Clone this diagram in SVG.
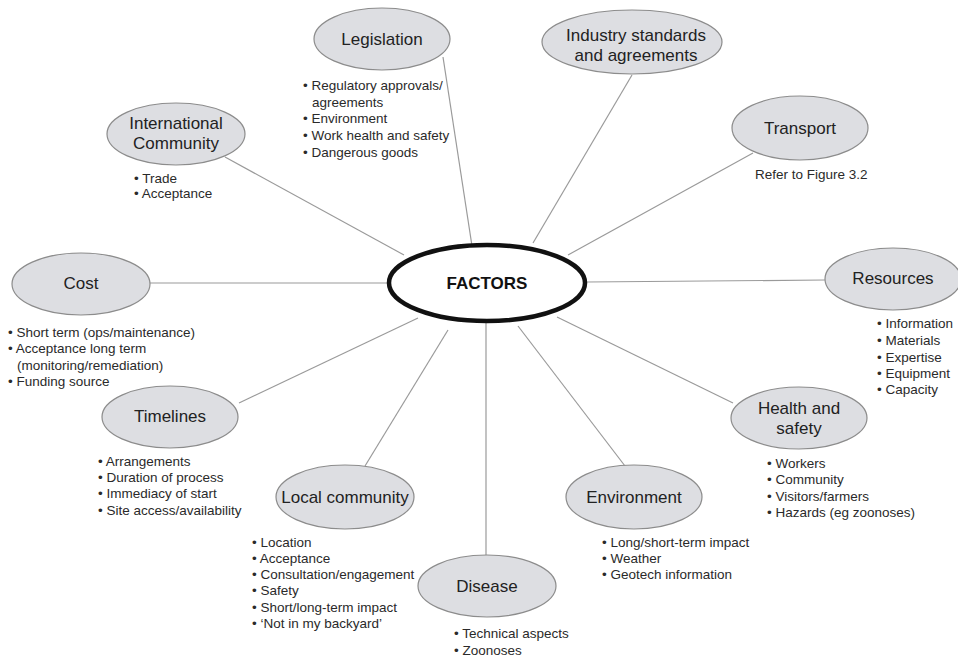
<svg xmlns="http://www.w3.org/2000/svg" width="958" height="661" viewBox="0 0 958 661">
<style>
.bg{fill:#ffffff}
.node{fill:#dddee2;stroke:#8c8c8c;stroke-width:1.2}
.hub{fill:#ffffff;stroke:#111111;stroke-width:4.5}
.lbl{font-family:"Liberation Sans",Arial,sans-serif;font-size:17px;fill:#222222;text-anchor:middle}
.hubl{font-family:"Liberation Sans",Arial,sans-serif;font-size:17px;font-weight:bold;fill:#111111;text-anchor:middle}
.bl{font-family:"Liberation Sans",Arial,sans-serif;font-size:13.5px;fill:#2a2a2a}
.conn line{stroke:#9a9a9a;stroke-width:1.2}
</style>
<rect class="bg" x="0" y="0" width="958" height="661"/>
<g id="connectors" class="conn">
<line x1="443" y1="57" x2="472" y2="246"/>
<line x1="225" y1="157" x2="404" y2="255"/>
<line x1="632" y1="75" x2="533" y2="243"/>
<line x1="753" y1="153" x2="568" y2="255"/>
<line x1="150" y1="283" x2="388" y2="283"/>
<line x1="587" y1="282" x2="825" y2="280"/>
<line x1="239" y1="403" x2="418" y2="318"/>
<line x1="365" y1="466" x2="448" y2="330"/>
<line x1="486" y1="322" x2="486" y2="555"/>
<line x1="518" y1="326" x2="625" y2="466"/>
<line x1="557" y1="317" x2="733" y2="403"/>
</g>
<g id="factors">
<ellipse class="hub" cx="487" cy="283" rx="98" ry="38"/>
<text class="hubl" x="487" y="289">FACTORS</text>
</g>
<g id="legislation">
<ellipse class="node" cx="382" cy="39" rx="68" ry="31"/>
<text class="lbl" x="382" y="45">Legislation</text>
<text class="bl" x="303" y="90">• Regulatory approvals/</text>
<text class="bl" x="312" y="107">agreements</text>
<text class="bl" x="303" y="123">• Environment</text>
<text class="bl" x="303" y="140">• Work health and safety</text>
<text class="bl" x="303" y="157">• Dangerous goods</text>
</g>
<g id="international">
<ellipse class="node" cx="176" cy="134" rx="69" ry="31"/>
<text class="lbl" x="176" y="129">International</text>
<text class="lbl" x="176" y="149">Community</text>
<text class="bl" x="134" y="183">• Trade</text>
<text class="bl" x="134" y="198">• Acceptance</text>
</g>
<g id="industry">
<ellipse class="node" cx="632" cy="42" rx="90" ry="32"/>
<text class="lbl" x="636" y="41">Industry standards</text>
<text class="lbl" x="636" y="61">and agreements</text>
</g>
<g id="transport">
<ellipse class="node" cx="800" cy="128" rx="68" ry="32"/>
<text class="lbl" x="800" y="134">Transport</text>
<text class="bl" x="755" y="179">Refer to Figure 3.2</text>
</g>
<g id="cost">
<ellipse class="node" cx="81" cy="284" rx="69" ry="31"/>
<text class="lbl" x="81" y="289">Cost</text>
<text class="bl" x="8" y="337">• Short term (ops/maintenance)</text>
<text class="bl" x="8" y="353">• Acceptance long term</text>
<text class="bl" x="17" y="370">(monitoring/remediation)</text>
<text class="bl" x="8" y="386">• Funding source</text>
</g>
<g id="resources">
<ellipse class="node" cx="893" cy="279" rx="68" ry="31"/>
<text class="lbl" x="893" y="284">Resources</text>
<text class="bl" x="877" y="328">• Information</text>
<text class="bl" x="877" y="345">• Materials</text>
<text class="bl" x="877" y="362">• Expertise</text>
<text class="bl" x="877" y="378">• Equipment</text>
<text class="bl" x="877" y="394">• Capacity</text>
</g>
<g id="timelines">
<ellipse class="node" cx="170" cy="417" rx="68" ry="31"/>
<text class="lbl" x="170" y="422">Timelines</text>
<text class="bl" x="98" y="466">• Arrangements</text>
<text class="bl" x="98" y="482">• Duration of process</text>
<text class="bl" x="98" y="498">• Immediacy of start</text>
<text class="bl" x="98" y="515">• Site access/availability</text>
</g>
<g id="health">
<ellipse class="node" cx="799" cy="418" rx="68" ry="31"/>
<text class="lbl" x="799" y="414">Health and</text>
<text class="lbl" x="799" y="434">safety</text>
<text class="bl" x="767" y="468">• Workers</text>
<text class="bl" x="767" y="484">• Community</text>
<text class="bl" x="767" y="501">• Visitors/farmers</text>
<text class="bl" x="767" y="517">• Hazards (eg zoonoses)</text>
</g>
<g id="local">
<ellipse class="node" cx="345" cy="497" rx="69" ry="32"/>
<text class="lbl" x="345" y="503">Local community</text>
<text class="bl" x="252" y="547">• Location</text>
<text class="bl" x="252" y="563">• Acceptance</text>
<text class="bl" x="252" y="579">• Consultation/engagement</text>
<text class="bl" x="252" y="595">• Safety</text>
<text class="bl" x="252" y="612">• Short/long-term impact</text>
<text class="bl" x="252" y="628">• ‘Not in my backyard’</text>
</g>
<g id="environment">
<ellipse class="node" cx="634" cy="497" rx="68" ry="32"/>
<text class="lbl" x="634" y="503">Environment</text>
<text class="bl" x="602" y="547">• Long/short-term impact</text>
<text class="bl" x="602" y="563">• Weather</text>
<text class="bl" x="602" y="579">• Geotech information</text>
</g>
<g id="disease">
<ellipse class="node" cx="487" cy="586" rx="69" ry="31"/>
<text class="lbl" x="487" y="592">Disease</text>
<text class="bl" x="454" y="638">• Technical aspects</text>
<text class="bl" x="454" y="655">• Zoonoses</text>
</g>
</svg>
